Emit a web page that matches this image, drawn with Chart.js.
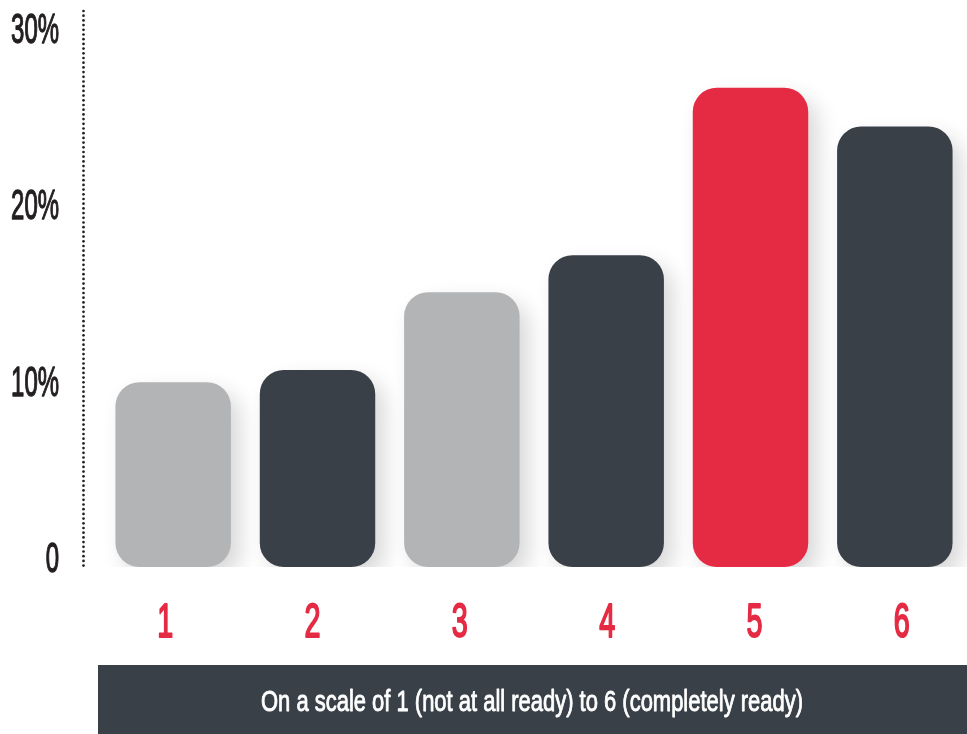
<!DOCTYPE html>
<html>
<head>
<meta charset="utf-8">
<script src="https://cdn.jsdelivr.net/npm/chart.js@4.4.1/dist/chart.umd.min.js"></script>
<style>
  html, body { margin: 0; padding: 0; background: #ffffff; }
  #wrap { width: 967px; height: 734px; position: relative; }
</style>
</head>
<body>
<div id="wrap"><canvas id="readyChart"></canvas></div>
<script>

// readiness scores and share of respondents (%)
var categories = ['1', '2', '3', '4', '5', '6'];
var shares = [9.9, 10.6, 15.0, 17.1, 26.6, 24.4];
var yTicks = [0, 10, 20, 30];
var scaleCaption = 'On a scale of 1 (not at all ready) to 6 (completely ready)';

var GREY = '#b3b4b6';
var DARK = '#3a4048';
var RED = '#e52b44';
var barColors = [GREY, DARK, GREY, DARK, RED, DARK];

var Y_MIN = -0.57;
var Y_MAX = 31.0;
var FONT = '"Liberation Sans", Arial, sans-serif';

// condensed text: draw normal glyphs squeezed horizontally,
// with an optional thin stroke to get a medium weight
function squeezedText(ctx, text, x, y, size, sx, align, color, weight, stroke){
	ctx.save();
	ctx.font = (weight || 'normal') + ' ' + size + 'px ' + FONT;
	ctx.fillStyle = color;
	ctx.strokeStyle = color;
	ctx.textAlign = align;
	ctx.textBaseline = 'alphabetic';
	ctx.translate(x, y + size * 0.716 / 2);
	ctx.scale(sx, 1);
	ctx.fillText(text, 0, 0);
	if(stroke){
		ctx.lineWidth = stroke;
		ctx.lineJoin = 'round';
		ctx.strokeText(text, 0, 0);
	}
	ctx.restore();
}

var barShadow = {
	id: 'barShadow',
	beforeDatasetsDraw(chart){
		var ctx = chart.ctx;
		ctx.save();
		ctx.shadowColor = 'rgba(0, 0, 0, 0.16)';
		ctx.shadowBlur = 22;
		ctx.shadowOffsetX = 9;
		ctx.shadowOffsetY = 10;
	},
	afterDatasetsDraw(chart){
		chart.ctx.restore();
	}
};

var decorations = {
	id: 'decorations',
	afterDraw(chart){
		var ctx = chart.ctx;
		var yScale = chart.scales.y;
		var xScale = chart.scales.x;

		// dotted value axis
		ctx.save();
		ctx.fillStyle = '#231f20';
		for(var y = 11; y <= 570; y += 4.7){
			ctx.beginPath();
			ctx.arc(83.5, y, 1.35, 0, Math.PI * 2);
			ctx.fill();
		}
		ctx.restore();

		// value labels
		yTicks.forEach(function(v){
			var label = v === 0 ? '0' : v + '%';
			squeezedText(ctx, label, 59, yScale.getPixelForValue(v), 42, 0.57, 'right', '#231f20', 'normal', 1.3);
		});

		// score labels, spread a little wider than the bars
		categories.forEach(function(c, i){
			var x = xScale.getPixelForValue(i) - 8 + i * 3;
			squeezedText(ctx, c, x, 620, 48, 0.6, 'center', RED, 'normal', 2.0);
		});

		// caption band
		ctx.save();
		ctx.fillStyle = DARK;
		ctx.fillRect(98, 665, chart.width - 98, chart.height - 665);
		ctx.font = 'normal 30px ' + FONT;
		var w = ctx.measureText(scaleCaption).width;
		ctx.restore();
		squeezedText(ctx, scaleCaption, 532, 700, 30, 542 / w, 'center', '#ffffff', 'normal', 0.9);
	}
};

var ctx = document.getElementById('readyChart').getContext('2d');
var chart = new Chart(ctx, {
	type: 'bar',
	data: {
		labels: categories,
		datasets: [{
			data: shares,
			backgroundColor: barColors,
			borderRadius: 24,
			borderSkipped: false,
			base: Y_MIN,
			barPercentage: 0.8,
			categoryPercentage: 1.0
		}]
	},
	options: {
		responsive: true,
		maintainAspectRatio: false,
		animation: false,
		layout: { padding: { left: 101, right: 0, top: 10, bottom: 167 } },
		plugins: {
			legend: { display: false },
			tooltip: { enabled: false }
		},
		scales: {
			x: { display: false },
			y: { display: false, min: Y_MIN, max: Y_MAX }
		}
	},
	plugins: [barShadow, decorations]
});

</script>
</body>
</html>
